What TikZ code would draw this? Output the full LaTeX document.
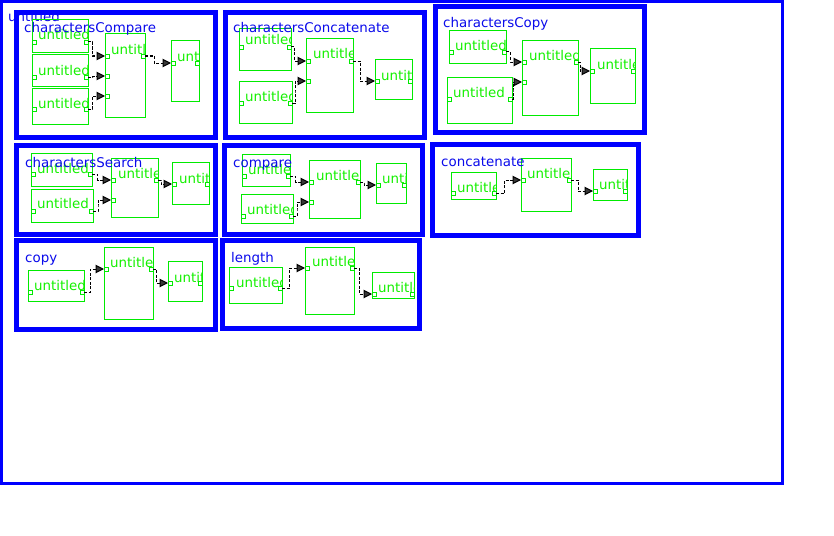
\documentclass[tikz,border=0pt]{standalone}
\usepackage{fontspec}
\setmainfont{DejaVu Sans}
\usetikzlibrary{arrows.meta,calc}
\definecolor{fblue}{RGB}{0,0,255}
\definecolor{tblue}{RGB}{10,10,235}
\definecolor{grn}{RGB}{0,235,0}
\definecolor{tgrn}{RGB}{20,240,0}
\definecolor{arrfill}{RGB}{55,55,55}
\tikzset{
 rootframe/.style={draw=fblue, line width=3pt, inner sep=0pt, outer sep=0pt},
 panel/.style={draw=fblue, line width=5pt, inner sep=0pt, outer sep=0pt},
 ttl/.style={text=tblue, anchor=base west, inner sep=0pt, font=\fontsize{13.4}{16}\selectfont},
 blk/.style={draw=grn, line width=1pt, inner sep=0pt, outer sep=0pt},
 lbl/.style={text=tgrn, anchor=base west, inner sep=0pt, font=\fontsize{13.4}{16}\selectfont},
 prt/.style={draw=grn, fill=white, line width=0.8pt, minimum size=4pt, inner sep=0pt, outer sep=0pt},
 conn/.style={draw=black, line width=1pt, dash pattern=on 3pt off 1.5pt, -{Triangle[length=8.5pt,width=8.5pt,fill=arrfill]}}
}
\newcommand\Pnl[5]{%
 \node[panel, minimum width={(#4)-(#2)}, minimum height={(#5)-(#3)}] (#1) at ({((#2)+(#4))/2},{((#3)+(#5))/2}) {};}
\newcommand\Ttl[4]{\node[ttl] (#1) at (#3,{#4+5}) {#2};}
\newcommand\Blk[7]{%
 \node[blk, minimum width={(#4)-(#2)}, minimum height={(#5)-(#3)}] (#1) at ({((#2)+(#4))/2},{((#3)+(#5))/2}) {};
 \begin{scope}
  \clip (#1.north west) rectangle (#1.south east);
  \node[lbl] (#1-t) at (#6,{#7+5}) {untitled};
 \end{scope}}
\newcommand\PortL[3]{\node[prt] (#1) at ({#2+2},#3) {};}
\newcommand\PortR[3]{\node[prt] (#1) at ({#2-2},#3) {};}
\newcommand\Conn[2]{\draw[conn] (#1.east) -| ($(#1.east)!0.5!(#2.west)+(-4,0)$) |- (#2.west);}
\begin{document}
\begin{tikzpicture}[x=1pt,y=-1pt]
\useasboundingbox (0,0) rectangle (834,535);
\node[rootframe, minimum width=781pt, minimum height=482pt] (root) at (392,242.5) {};
\node[ttl] (roott) at (8,22) {untitled};

% panel 1
\Pnl{p1}{16.5}{12.5}{215.5}{137}
\Blk{p1a}{32}{20}{88}{53}{38}{35}
\PortL{p1aL}{32}{42}\PortR{p1aR}{88}{42}
\Blk{p1b}{32}{55}{88}{86}{38}{70}
\PortL{p1bL}{32}{77}\PortR{p1bR}{88}{77}
\Blk{p1c}{32}{88}{88}{124}{38}{103}
\PortL{p1cL}{32}{109}\PortR{p1cR}{88}{109}
\Blk{p1d}{105}{34}{145}{117}{111}{49}
\PortL{p1dL1}{105}{56}\PortL{p1dL2}{105}{76}\PortL{p1dL3}{105}{96}\PortR{p1dR}{145}{56}
\Blk{p1e}{171}{41}{199}{101}{177}{57}
\PortL{p1eL}{171}{63}\PortR{p1eR}{199}{63}
\Ttl{p1t}{charactersCompare}{24}{28}
\Conn{p1aR}{p1dL1}\Conn{p1bR}{p1dL2}\Conn{p1cR}{p1dL3}\Conn{p1dR}{p1eL}

% panel 2
\Pnl{p2}{225}{12.5}{424.5}{137}
\Blk{p2a}{239}{29}{291}{70}{245}{40}
\PortL{p2aL}{239}{47}\PortR{p2aR}{291}{47}
\Blk{p2b}{239}{81}{292}{123}{245}{96}
\PortL{p2bL}{239}{103}\PortR{p2bR}{292}{103}
\Blk{p2d}{306}{39}{353}{112}{313}{54}
\PortL{p2dL1}{306}{61}\PortL{p2dL2}{306}{81}\PortR{p2dR}{353}{61}
\Blk{p2e}{375}{59}{412}{99}{381}{75}
\PortL{p2eL}{375}{81}\PortR{p2eR}{412}{81}
\Ttl{p2t}{charactersConcatenate}{233}{28}
\Conn{p2aR}{p2dL1}\Conn{p2bR}{p2dL2}\Conn{p2dR}{p2eL}

% panel 3
\Pnl{p3}{435.5}{7}{644.5}{132.5}
\Blk{p3a}{449}{31}{506}{63}{455}{45}
\PortL{p3aL}{449}{52}\PortR{p3aR}{506}{52}
\Blk{p3b}{447}{77}{512}{123}{453}{92}
\PortL{p3bL}{447}{99}\PortR{p3bR}{512}{99}
\Blk{p3d}{522}{41}{578}{115}{529}{55}
\PortL{p3dL1}{522}{62}\PortL{p3dL2}{522}{82}\PortR{p3dR}{578}{62}
\Blk{p3e}{590}{49}{635}{103}{597}{64}
\PortL{p3eL}{590}{71}\PortR{p3eR}{635}{71}
\Ttl{p3t}{charactersCopy}{443}{23}
\Conn{p3aR}{p3dL1}\Conn{p3bR}{p3dL2}\Conn{p3dR}{p3eL}

% panel 4
\Pnl{p4}{16.5}{145.5}{215.5}{234}
\Blk{p4a}{31}{153}{92}{186}{37}{168}
\PortL{p4aL}{31}{174}\PortR{p4aR}{92}{174}
\Blk{p4b}{31}{189}{93}{222}{37}{203}
\PortL{p4bL}{31}{211}\PortR{p4bR}{93}{211}
\Blk{p4d}{111}{158}{158}{217}{118}{173}
\PortL{p4dL1}{111}{180}\PortL{p4dL2}{111}{200}\PortR{p4dR}{158}{180}
\Blk{p4e}{172}{162}{209}{204}{179}{178}
\PortL{p4eL}{172}{184}\PortR{p4eR}{209}{184}
\Ttl{p4t}{charactersSearch}{25}{162}
\Conn{p4aR}{p4dL1}\Conn{p4bR}{p4dL2}\Conn{p4dR}{p4eL}

% panel 5
\Pnl{p5}{224.5}{145.5}{422.5}{234}
\Blk{p5a}{242}{154}{290}{186}{248}{169}
\PortL{p5aL}{242}{176}\PortR{p5aR}{290}{176}
\Blk{p5b}{241}{194}{293}{223}{247}{209}
\PortL{p5bL}{241}{216}\PortR{p5bR}{293}{216}
\Blk{p5d}{309}{160}{360}{218}{316}{175}
\PortL{p5dL1}{309}{182}\PortL{p5dL2}{309}{202}\PortR{p5dR}{360}{182}
\Blk{p5e}{376}{163}{406}{203}{382}{178}
\PortL{p5eL}{376}{185}\PortR{p5eR}{406}{185}
\Ttl{p5t}{compare}{233}{162}
\Conn{p5aR}{p5dL1}\Conn{p5bR}{p5dL2}\Conn{p5dR}{p5eL}

% panel 6
\Pnl{p6}{432.5}{144}{638.5}{235.5}
\Blk{p6a}{451}{172}{496}{199}{457}{187}
\PortL{p6aL}{451}{193}\PortR{p6aR}{496}{193}
\Blk{p6d}{521}{158}{571}{211}{527}{173}
\PortL{p6dL1}{521}{180}\PortR{p6dR}{571}{180}
\Blk{p6e}{593}{169}{627}{200}{599}{184}
\PortL{p6eL}{593}{191}\PortR{p6eR}{627}{191}
\Ttl{p6t}{concatenate}{441}{161}
\Conn{p6aR}{p6dL1}\Conn{p6dR}{p6eL}

% panel 7
\Pnl{p7}{16.5}{240}{215.5}{329}
\Blk{p7a}{28}{270}{84}{301}{34}{285}
\PortL{p7aL}{28}{292}\PortR{p7aR}{84}{292}
\Blk{p7d}{104}{247}{153}{319}{110}{262}
\PortL{p7dL1}{104}{269}\PortR{p7dR}{153}{269}
\Blk{p7e}{168}{261}{202}{301}{174}{277}
\PortL{p7eL}{168}{283}\PortR{p7eR}{202}{283}
\Ttl{p7t}{copy}{25}{257}
\Conn{p7aR}{p7dL1}\Conn{p7dR}{p7eL}

% panel 8
\Pnl{p8}{222}{240}{419}{328.5}
\Blk{p8a}{229}{267}{282}{303}{236}{282}
\PortL{p8aL}{229}{288}\PortR{p8aR}{282}{288}
\Blk{p8d}{305}{247}{354}{314}{312}{261}
\PortL{p8dL1}{305}{268}\PortR{p8dR}{354}{268}
\Blk{p8e}{372}{272}{414}{298}{378}{287}
\PortL{p8eL}{372}{294}\PortR{p8eR}{414}{294}
\Ttl{p8t}{length}{231}{257}
\Conn{p8aR}{p8dL1}\Conn{p8dR}{p8eL}
\end{tikzpicture}
\end{document}
